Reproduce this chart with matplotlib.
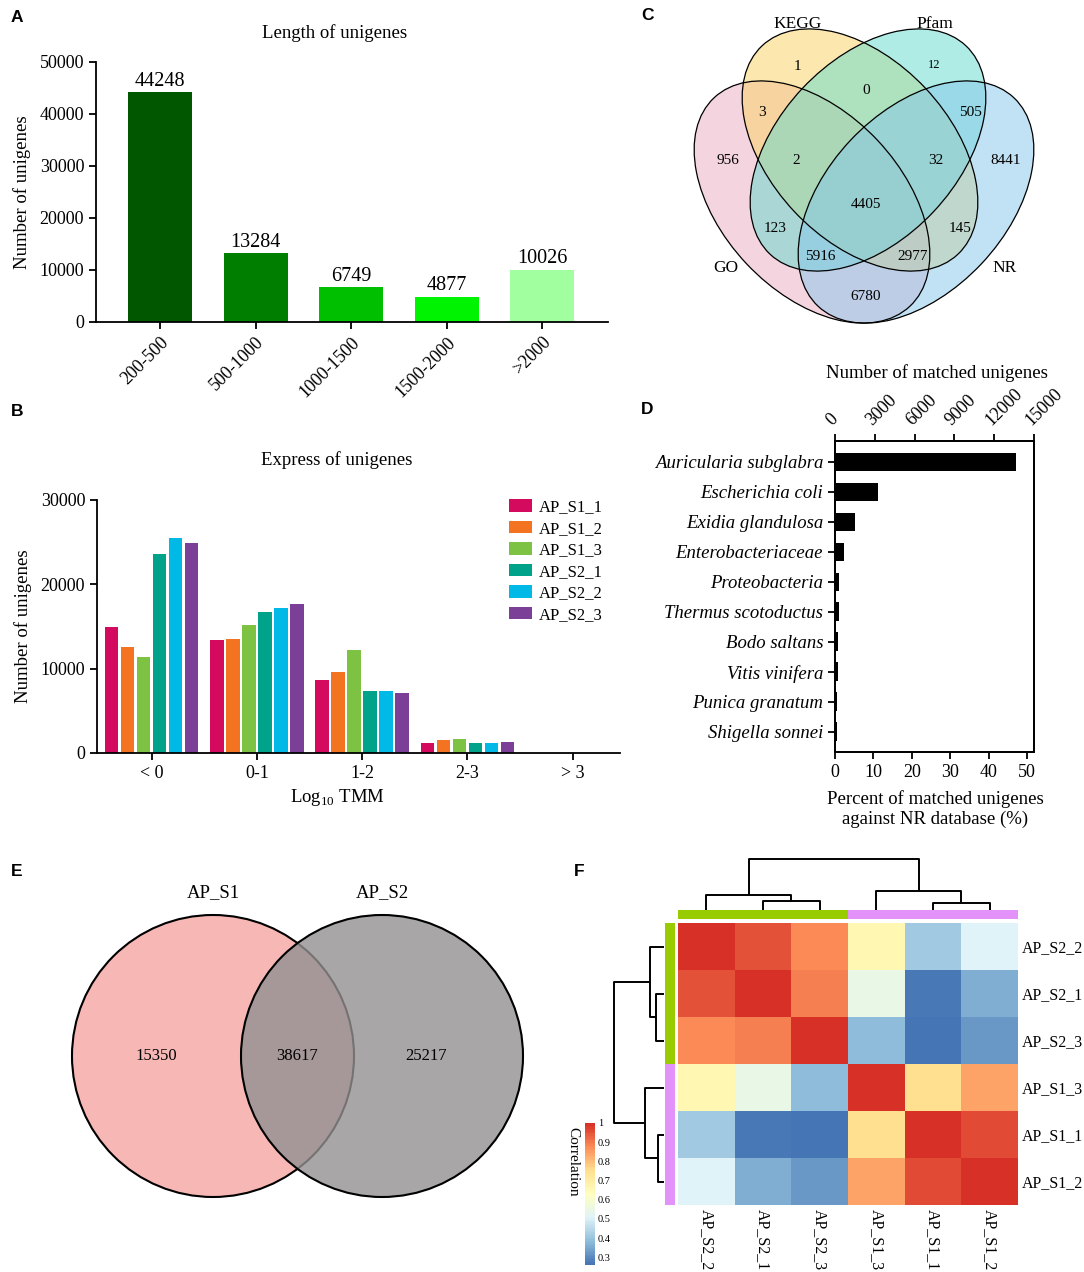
import numpy as np
import matplotlib
matplotlib.use("Agg")
import matplotlib.pyplot as plt
from matplotlib.patches import Ellipse, Circle
from matplotlib.colors import LinearSegmentedColormap, Normalize, ListedColormap
from matplotlib.cm import ScalarMappable

plt.rcParams['font.family'] = ['Liberation Serif', 'DejaVu Serif']
plt.rcParams['mathtext.fontset'] = 'custom'
plt.rcParams['mathtext.rm'] = 'Liberation Serif'
plt.rcParams['axes.linewidth'] = 1.3
plt.rcParams['xtick.major.width'] = 1.3
plt.rcParams['ytick.major.width'] = 1.3
plt.rcParams['xtick.major.size'] = 5
plt.rcParams['ytick.major.size'] = 5
plt.rcParams['xtick.labelsize'] = 13
plt.rcParams['ytick.labelsize'] = 13

# ---------------- data ----------------
# A: length distribution
length_bins = ["200-500", "500-1000", "1000-1500", "1500-2000", ">2000"]
length_counts = [44248, 13284, 6749, 4877, 10026]
length_colors = ["#005700", "#007e00", "#00bf00", "#00f300", "#a2ffa0"]

# B: expression distribution
tmm_bins = ["< 0", "0-1", "1-2", "2-3", "> 3"]
samples = ["AP_S1_1", "AP_S1_2", "AP_S1_3", "AP_S2_1", "AP_S2_2", "AP_S2_3"]
ap_s1_1 = [14900, 13400, 8700, 1200, 30]
ap_s1_2 = [12550, 13550, 9600, 1550, 40]
ap_s1_3 = [11400, 15200, 12200, 1700, 40]
ap_s2_1 = [23600, 16700, 7400, 1200, 20]
ap_s2_2 = [25500, 17200, 7300, 1200, 20]
ap_s2_3 = [24900, 17700, 7150, 1350, 25]
expr_counts = [ap_s1_1, ap_s1_2, ap_s1_3, ap_s2_1, ap_s2_2, ap_s2_3]
sample_colors = ["#d40a5e", "#f47321", "#7dc243", "#00a38a", "#00b9e6", "#7c3f98"]

# C: annotation database venn (membership GO, KEGG, Pfam, NR)
venn4_sets = ["GO", "KEGG", "Pfam", "NR"]
venn4_counts = {
    (0, 1, 0, 0): 1, (0, 0, 1, 0): 12, (0, 1, 1, 0): 0, (1, 1, 0, 0): 3,
    (0, 0, 1, 1): 505, (1, 0, 0, 0): 956, (1, 1, 1, 0): 2, (0, 1, 1, 1): 32,
    (0, 0, 0, 1): 8441, (1, 1, 1, 1): 4405, (1, 0, 1, 0): 123, (0, 1, 0, 1): 145,
    (1, 0, 1, 1): 5916, (1, 1, 0, 1): 2977, (1, 0, 0, 1): 6780,
}
venn4_colors = ["#ebabc1", "#fbd361", "#61dbcd", "#85c7eb"]

# D: NR species distribution
nr_species = ["Auricularia subglabra", "Escherichia coli", "Exidia glandulosa",
              "Enterobacteriaceae", "Proteobacteria", "Thermus scotoductus",
              "Bodo saltans", "Vitis vinifera", "Punica granatum", "Shigella sonnei"]
nr_percent = [47.1, 11.2, 5.1, 2.4, 1.05, 1.05, 0.9, 0.7, 0.6, 0.4]

# E: shared unigenes between stages
venn2_sets = ["AP_S1", "AP_S2"]
venn2_counts = [15350, 38617, 25217]

# F: sample correlation (order as displayed)
corr_labels = ["AP_S2_2", "AP_S2_1", "AP_S2_3", "AP_S1_3", "AP_S1_1", "AP_S1_2"]
corr = np.array([
    [1.000, 0.950, 0.875, 0.660, 0.410, 0.505],
    [0.950, 1.000, 0.895, 0.545, 0.270, 0.360],
    [0.875, 0.895, 1.000, 0.385, 0.260, 0.320],
    [0.660, 0.545, 0.385, 1.000, 0.750, 0.840],
    [0.410, 0.270, 0.260, 0.750, 1.000, 0.960],
    [0.505, 0.360, 0.320, 0.840, 0.960, 1.000],
])
corr_groups = [0, 0, 0, 1, 1, 1]
# linkage on displayed leaf order: (left, right, height); new nodes numbered from 6
corr_linkage = [(1, 2, 0.17), (0, 6, 0.285), (4, 5, 0.13), (3, 8, 0.375), (7, 9, 1.0)]

# ---------------- figure ----------------
W, H = 1084, 1272
fig = plt.figure(figsize=(W / 100, H / 100), dpi=100)


def px_axes(l, t, r, b):
    return fig.add_axes([l / W, 1 - b / H, (r - l) / W, (b - t) / H])


def px_text(x, y, s, **kw):
    fig.text(x / W, 1 - y / H, s, **kw)


letter_font = dict(family=['Liberation Sans', 'DejaVu Sans'], weight='bold', fontsize=12.5,
                   ha='left', va='center')
for let, lx, ly in [("A", 11, 17), ("B", 11, 411), ("C", 641, 15), ("D", 641, 409),
                    ("E", 11, 872), ("F", 574, 872)]:
    px_text(lx, ly, let, **letter_font)

# ---- A ----
ax = px_axes(96, 62, 608, 322)
xa = np.arange(len(length_bins))
ax.bar(xa, length_counts, width=0.67, color=length_colors)
for xi, v in zip(xa, length_counts):
    ax.annotate(str(v), (xi, v), xytext=(0, 1), textcoords='offset points',
                ha='center', va='bottom', fontsize=14.5)
ax.set_xlim(-0.67, 4.69)
ax.set_ylim(0, 50000)
ax.set_yticks(np.arange(0, 50001, 10000))
ax.set_xticks(xa)
ax.set_xticklabels(length_bins, rotation=45, ha='right', va='top', rotation_mode='anchor')
ax.spines[['top', 'right']].set_visible(False)
ax.set_ylabel('Number of unigenes', fontsize=13.5, labelpad=6)
px_text(335, 33, 'Length of unigenes', ha='center', va='center', fontsize=13.5)

# ---- B ----
ax = px_axes(97, 500, 620, 753)
xb = np.arange(len(tmm_bins))
step = 0.152
for i, (name, vals, col) in enumerate(zip(samples, expr_counts, sample_colors)):
    ax.bar(xb + (i - 2.5) * step, vals, width=0.128, color=col, label=name)
ax.set_xlim(-0.52, 4.45)
ax.set_ylim(0, 30000)
ax.set_yticks(np.arange(0, 30001, 10000))
ax.set_xticks(xb)
ax.set_xticklabels(tmm_bins)
ax.spines[['top', 'right']].set_visible(False)
ax.set_ylabel('Number of unigenes', fontsize=13.5, labelpad=6)
ax.legend(loc='upper left', bbox_to_anchor=(509 / W, 1 - 499 / H),
          bbox_transform=fig.transFigure, frameon=False, fontsize=12,
          handlelength=1.35, handleheight=0.8, handletextpad=0.45,
          labelspacing=0.32, borderpad=0, borderaxespad=0)
px_text(337, 460, 'Express of unigenes', ha='center', va='center', fontsize=13.5)
px_text(337, 797, 'Log$_{10}$ TMM', ha='center', va='center', fontsize=13.5)

# ---- C ----
ax = px_axes(680, 0, 1084, 330)
ax.set_xlim(680, 1084)
ax.set_ylim(330, 0)
ax.axis('off')
ellipses = [(812, 202, 143, 90, 46.8), (860, 150, 143, 90, 46.8),
            (868, 150, 143, 90, -46.8), (916, 202, 143, 90, -46.8)]
for (cx, cy, a, b, ang), col in zip(ellipses, venn4_colors):
    ax.add_patch(Ellipse((cx, cy), 2 * a, 2 * b, angle=ang, facecolor=col,
                         alpha=0.5, edgecolor='none'))
for (cx, cy, a, b, ang) in ellipses:
    ax.add_patch(Ellipse((cx, cy), 2 * a, 2 * b, angle=ang, facecolor='none',
                         edgecolor='black', lw=0.9))

# fixed label spots per region, as the venn layout places them
region_spots = {
    (0, 1, 0, 0): (797, 67), (0, 0, 1, 0): (934, 65), (0, 1, 1, 0): (866, 90),
    (1, 1, 0, 0): (762, 113), (0, 0, 1, 1): (970, 113), (1, 0, 0, 0): (728, 160),
    (1, 1, 1, 0): (796, 160), (0, 1, 1, 1): (936, 160), (0, 0, 0, 1): (1006, 160),
    (1, 1, 1, 1): (866, 205), (1, 0, 1, 0): (775, 229), (0, 1, 0, 1): (960, 228),
    (1, 0, 1, 1): (820, 257), (1, 1, 0, 1): (913, 257), (1, 0, 0, 1): (866, 297),
}
for key, val in venn4_counts.items():
    sx, sy = region_spots[key]
    ax.text(sx, sy, str(val), ha='center', va='center',
            fontsize=9 if val == 12 else 11)
for name, (lx, ly) in zip(venn4_sets, [(726, 268), (798, 24), (935, 24), (1005, 268)]):
    ax.text(lx, ly, name, ha='center', va='center', fontsize=12.5)

# ---- D ----
ax = px_axes(835, 441, 1034, 752)
yd = np.arange(len(nr_species))
ax.barh(yd, nr_percent, height=0.63, color='black')
ax.set_ylim(len(nr_species) - 0.33, -0.7)
ax.set_xlim(0, 51.8)
ax.set_xticks(np.arange(0, 51, 10))
ax.set_yticks(yd)
ax.set_yticklabels(nr_species, style='italic', fontsize=13.5)
ax2 = ax.twiny()
ax2.set_xlim(0, 15000)
ax2.set_xticks(np.arange(0, 15001, 3000))
ax2.set_xticklabels([str(v) for v in range(0, 15001, 3000)], rotation=45,
                    ha='left', va='bottom', rotation_mode='anchor')
px_text(937, 373, 'Number of matched unigenes', ha='center', va='center', fontsize=13.5)
px_text(935, 809, 'Percent of matched unigenes\nagainst NR database (%)',
        ha='center', va='center', fontsize=13.5, linespacing=1.15)

# ---- E ----
ax = px_axes(0, 850, 580, 1272)
ax.set_xlim(0, 580)
ax.set_ylim(1272, 850)
ax.axis('off')
r = 141
cxs = [213, 382]
cy = 1056
ax.add_patch(Circle((cxs[0], cy), r, facecolor='#f7b8b5', edgecolor='black', lw=1.5))
ax.add_patch(Circle((cxs[1], cy), r, facecolor=(0.573, 0.565, 0.569, 0.8),
                    edgecolor='black', lw=1.5))
pos = [(cxs[0] - r + cxs[1] - r) / 2, (cxs[1] - r + cxs[0] + r) / 2,
       (cxs[0] + r + cxs[1] + r) / 2 - 12]
for xv, val in zip(pos, venn2_counts):
    ax.text(xv, cy, str(val), ha='center', va='center', fontsize=12)
for xv, name in zip(cxs, venn2_sets):
    ax.text(xv, cy - r - 22, name, ha='center', va='center', fontsize=13.5)

# ---- F ----
pal = ["#4575b4", "#91bfdb", "#e0f3f8", "#ffffbf", "#fee090", "#fc8d59", "#d73027"]
cmap = ListedColormap(LinearSegmentedColormap.from_list('rdylbu', pal)(np.linspace(0, 1, 100)))
norm = Normalize(vmin=0.26, vmax=1.0)
n = len(corr_labels)
L, T, R, B = 678, 923, 1018, 1205
ax = px_axes(L, T, R, B)
ax.pcolormesh(corr, cmap=cmap, norm=norm)
ax.set_xlim(0, n)
ax.set_ylim(n, 0)
for s in ax.spines.values():
    s.set_visible(False)
ax.yaxis.tick_right()
ax.set_yticks(np.arange(n) + 0.5)
ax.set_yticklabels(corr_labels, fontsize=11.5)
ax.set_xticks(np.arange(n) + 0.5)
ax.set_xticklabels(corr_labels, rotation=270, fontsize=11.5, va='top')
ax.tick_params(length=0, pad=3)

grp_cmap = ListedColormap(["#99cc00", "#e292f8"])
axt = px_axes(L, 910, R, 919)
axt.pcolormesh(np.array([corr_groups]), cmap=grp_cmap, vmin=0, vmax=1)
axt.axis('off')
axl = px_axes(665, T, 675, B)
axl.pcolormesh(np.array(corr_groups)[:, None], cmap=grp_cmap, vmin=0, vmax=1)
axl.set_ylim(n, 0)
axl.axis('off')


def dendro_segments(linkage, nleaf):
    pos = {i: (i + 0.5, 0.0) for i in range(nleaf)}
    segs = []
    for k, (a, b, h) in enumerate(linkage):
        xa_, ha_ = pos[a]
        xb_, hb_ = pos[b]
        segs.append(([xa_, xa_, xb_, xb_], [ha_, h, h, hb_]))
        pos[nleaf + k] = ((xa_ + xb_) / 2, h)
    return segs


segs = dendro_segments(corr_linkage, n)
axd = px_axes(L, 857, R, 910)
for xs, hs in segs:
    axd.plot(xs, hs, color='black', lw=1.4, solid_capstyle='butt')
axd.set_xlim(0, n)
axd.set_ylim(0, 1.04)
axd.axis('off')
axd2 = px_axes(612, T, 664, B)
for xs, hs in segs:
    axd2.plot(hs, xs, color='black', lw=1.4, solid_capstyle='butt')
axd2.set_ylim(n, 0)
axd2.set_xlim(1.04, 0)
axd2.axis('off')

cax = px_axes(585, 1123, 595, 1265)
cb = fig.colorbar(ScalarMappable(norm=norm, cmap=cmap), cax=cax)
cb.set_ticks([0.3, 0.4, 0.5, 0.6, 0.7, 0.8, 0.9, 1.0])
cb.set_ticklabels(['0.3', '0.4', '0.5', '0.6', '0.7', '0.8', '0.9', '1'])
cb.outline.set_visible(False)
cax.tick_params(length=0, labelsize=7.5, pad=2)
px_text(573, 1162, 'Correlation', rotation=270, ha='center', va='center', fontsize=11)

fig.savefig('out.png', dpi=100)
